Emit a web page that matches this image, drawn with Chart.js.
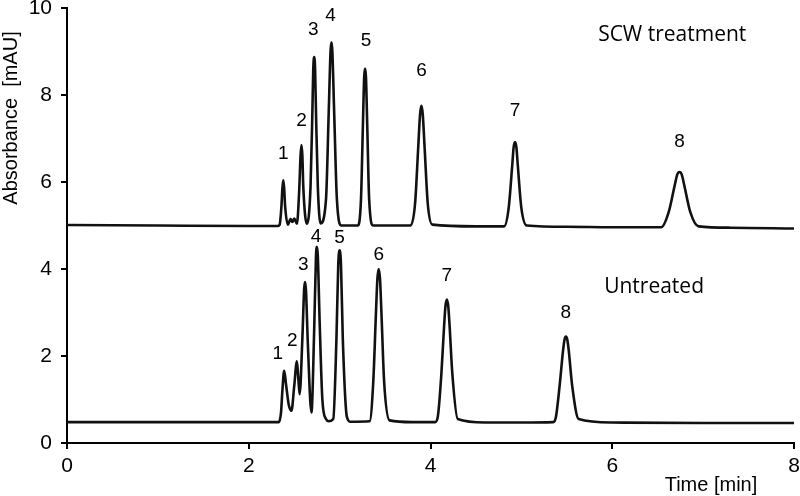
<!DOCTYPE html>
<html>
<head>
<meta charset="utf-8">
<script src="https://cdn.jsdelivr.net/npm/chart.js@4.4.1/dist/chart.umd.min.js"></script>
<style>
  html, body { margin: 0; padding: 0; background: #fff; }
  #wrap { width: 800px; height: 496px; }
</style>
</head>
<body>
<div id="wrap"><canvas id="chrom"></canvas></div>
<script>
// SCW treatment trace, [time min, absorbance mAU]
const scwTrace = [
    [0, 5.01], [1, 5.0], [2, 4.99], [2.32, 4.99],
    [2.34, 5.02], [2.36, 5.45], [2.37, 5.85], [2.38, 6.04], [2.39, 5.85], [2.40, 5.45], [2.43, 5.02],
    [2.46, 5.15], [2.48, 5.08], [2.50, 5.16], [2.53, 5.04],
    [2.555, 5.8], [2.57, 6.6], [2.58, 6.85], [2.59, 6.6], [2.60, 5.9], [2.64, 5.04],
    [2.68, 5.9], [2.70, 7.6], [2.71, 8.6], [2.72, 8.87], [2.73, 8.6], [2.74, 7.6], [2.76, 5.9], [2.79, 5.05],
    [2.85, 5.6], [2.88, 7.6], [2.90, 9.0], [2.91, 9.21], [2.92, 9.0], [2.94, 7.6], [2.97, 5.6], [3.02, 5.0],
    [3.20, 5.0], [3.235, 5.6], [3.255, 7.2], [3.27, 8.4], [3.28, 8.61], [3.29, 8.4], [3.305, 7.2], [3.325, 5.6], [3.37, 5.0],
    [3.78, 5.0], [3.83, 5.5], [3.865, 6.8], [3.885, 7.55], [3.90, 7.75], [3.915, 7.55], [3.935, 6.8], [3.97, 5.5], [4.02, 5.02],
    [4.5, 4.98], [4.81, 4.98],
    [4.86, 5.4], [4.90, 6.4], [4.915, 6.8], [4.93, 6.92], [4.945, 6.8], [4.96, 6.4], [5.0, 5.4], [5.06, 5.0],
    [5.5, 4.97], [6.0, 4.96], [6.54, 4.96],
    [6.62, 5.3], [6.69, 5.95], [6.715, 6.17], [6.74, 6.23], [6.765, 6.17], [6.79, 5.95], [6.86, 5.3], [6.95, 4.98],
    [7.3, 4.95], [8, 4.93]
];

// Untreated trace
const untreatedTrace = [
    [0, 0.48], [1, 0.48], [2, 0.48], [2.33, 0.48],
    [2.355, 0.7], [2.37, 1.2], [2.39, 1.66], [2.41, 1.35], [2.44, 0.88], [2.47, 0.74],
    [2.50, 1.3], [2.53, 1.88], [2.545, 1.5], [2.56, 1.12],
    [2.59, 2.4], [2.61, 3.55], [2.62, 3.70], [2.63, 3.5], [2.65, 2.3], [2.69, 0.70],
    [2.72, 2.6], [2.74, 4.3], [2.75, 4.51], [2.76, 4.3], [2.78, 2.8], [2.81, 1.0], [2.85, 0.55], [2.88, 0.5],
    [2.93, 0.55], [2.965, 2.4], [2.985, 4.1], [3.00, 4.43], [3.015, 4.1], [3.035, 2.4], [3.08, 0.6], [3.12, 0.49],
    [3.33, 0.5], [3.37, 1.4], [3.40, 3.0], [3.415, 3.75], [3.43, 4.00], [3.445, 3.75], [3.46, 3.0], [3.49, 1.4], [3.55, 0.52],
    [3.8, 0.48], [4.05, 0.48],
    [4.08, 0.6], [4.12, 1.6], [4.15, 2.7], [4.165, 3.15], [4.18, 3.30], [4.195, 3.15], [4.21, 2.7], [4.24, 1.6], [4.30, 0.55],
    [4.6, 0.47], [5.0, 0.47], [5.35, 0.48],
    [5.38, 0.6], [5.42, 1.3], [5.46, 2.15], [5.475, 2.38], [5.49, 2.45], [5.505, 2.38], [5.52, 2.15], [5.56, 1.3], [5.63, 0.55],
    [6.0, 0.47], [7, 0.46], [8, 0.46]
];

// peak number labels, [time, absorbance, text]
const scwPeakLabels = [
    [2.38, 6.66, '1'], [2.58, 7.40, '2'], [2.71, 9.50, '3'], [2.90, 9.82, '4'],
    [3.29, 9.24, '5'], [3.90, 8.55, '6'], [4.93, 7.63, '7'], [6.74, 6.92, '8']
];
const untreatedPeakLabels = [
    [2.32, 2.06, '1'], [2.48, 2.36, '2'], [2.60, 4.09, '3'], [2.74, 4.73, '4'],
    [3.00, 4.71, '5'], [3.43, 4.32, '6'], [4.18, 3.84, '7'], [5.49, 3.00, '8']
];
const traceLabels = [
    [6.66, 9.38, 'SCW treatment'], [6.46, 3.59, 'Untreated']
];

const xTicks = [0, 2, 4, 6, 8];
const yTicks = [0, 2, 4, 6, 8, 10];

const toPoints = arr => arr.map(p => ({ x: p[0], y: p[1] }));

// Peak numbers, trace names and the axis titles
const textPlugin = {
    id: 'chromText',
    afterDatasetsDraw(chart) {
        const ctx = chart.ctx;
        const xs = chart.scales.x;
        const ys = chart.scales.y;
        ctx.save();
        ctx.fillStyle = '#000';
        ctx.textAlign = 'center';
        ctx.textBaseline = 'middle';
        ctx.font = '19px "Liberation Sans", Arial, sans-serif';
        scwPeakLabels.concat(untreatedPeakLabels).forEach(l => {
            ctx.fillText(l[2], xs.getPixelForValue(l[0]), ys.getPixelForValue(l[1]));
        });
        ctx.font = '21px "Open Sans", sans-serif';
        traceLabels.forEach(l => {
            ctx.fillText(l[2], xs.getPixelForValue(l[0]), ys.getPixelForValue(l[1]));
        });

        ctx.font = '20px "Liberation Sans Narrow", "Liberation Sans", sans-serif';
        ctx.fillText('Time [min]', 711, 485);

        ctx.translate(11, 118);
        ctx.rotate(-Math.PI / 2);
        ctx.font = '20px "Liberation Sans", Arial, sans-serif';
        ctx.fillText('Absorbance  [mAU]', 0, 0);
        ctx.restore();
    }
};

const traceStyle = {
    borderColor: '#111',
    borderWidth: 2.6,
    pointRadius: 0,
    fill: false,
    cubicInterpolationMode: 'monotone'
};

new Chart(document.getElementById('chrom').getContext('2d'), {
    type: 'line',
    data: {
        datasets: [
            Object.assign({ label: 'SCW treatment', data: toPoints(scwTrace) }, traceStyle),
            Object.assign({ label: 'Untreated', data: toPoints(untreatedTrace) }, traceStyle)
        ]
    },
    options: {
        responsive: true,
        maintainAspectRatio: false,
        animation: false,
        layout: { autoPadding: false, padding: { top: 8, right: 6, left: 0, bottom: 0 } },
        plugins: {
            legend: { display: false },
            tooltip: { enabled: false }
        },
        scales: {
            x: {
                type: 'linear',
                min: 0,
                max: 8,
                afterBuildTicks: scale => { scale.ticks = xTicks.map(v => ({ value: v })); },
                afterFit: scale => {
                    scale.height = 53;
                    scale.paddingLeft = 0;
                    scale.paddingRight = 0;
                },
                grid: { drawOnChartArea: false, drawTicks: true, tickLength: 6, color: '#000', lineWidth: 2 },
                border: { display: true, color: '#000', width: 2 },
                ticks: {
                    color: '#000',
                    padding: 5,
                    maxRotation: 0,
                    font: { family: '"Liberation Sans", Arial, sans-serif', size: 21 }
                }
            },
            y: {
                type: 'linear',
                min: 0,
                max: 10,
                afterBuildTicks: scale => { scale.ticks = yTicks.map(v => ({ value: v })); },
                afterFit: scale => {
                    scale.width = 67;
                    scale.paddingTop = 0;
                    scale.paddingBottom = 0;
                },
                grid: { drawOnChartArea: false, drawTicks: true, tickLength: 6, color: '#000', lineWidth: 2 },
                border: { display: true, color: '#000', width: 2 },
                ticks: {
                    color: '#000',
                    padding: 9,
                    font: { family: '"Liberation Sans", Arial, sans-serif', size: 21 }
                }
            }
        }
    },
    plugins: [textPlugin]
});
</script>
</body>
</html>
